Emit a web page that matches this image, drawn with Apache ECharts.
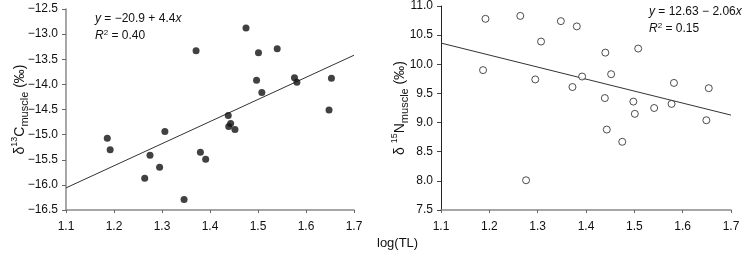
<!DOCTYPE html>
<html>
<head>
<meta charset="utf-8">
<script src="https://cdn.jsdelivr.net/npm/echarts@6/dist/echarts.min.js"></script>
<style>
html,body{margin:0;padding:0;background:#fff;}
#c{width:744px;height:254px;}
</style>
</head>
<body>
<div id="c"></div>
<script>
// log(TL) ticks
var xTicks = [1.1, 1.2, 1.3, 1.4, 1.5, 1.6, 1.7];
var c13Ticks = [-16.5, -16.0, -15.5, -15.0, -14.5, -14.0, -13.5, -13.0, -12.5];
var n15Ticks = [7.5, 8.0, 8.5, 9.0, 9.5, 10.0, 10.5, 11.0];

// Left panel: delta13C muscle vs log(TL)
var c13Points = [
  [1.186, -15.07], [1.192, -15.30], [1.264, -15.87], [1.275, -15.41],
  [1.295, -15.65], [1.306, -14.94], [1.346, -16.29], [1.371, -13.33],
  [1.380, -15.35], [1.391, -15.49], [1.438, -14.62], [1.439, -14.84],
  [1.443, -14.78], [1.452, -14.90], [1.475, -12.88], [1.497, -13.92],
  [1.501, -13.37], [1.508, -14.16], [1.540, -13.29], [1.576, -13.87],
  [1.581, -13.96], [1.648, -14.51], [1.653, -13.88]
];
var c13Fit = [[1.1, -16.06], [1.7, -13.42]];

// Right panel: delta15N muscle vs log(TL)
var n15Points = [
  [1.187, 9.90], [1.192, 10.78], [1.264, 10.83], [1.276, 8.01],
  [1.295, 9.74], [1.307, 10.39], [1.348, 10.74], [1.372, 9.61],
  [1.381, 10.65], [1.392, 9.79], [1.439, 9.42], [1.440, 10.20],
  [1.443, 8.88], [1.452, 9.83], [1.475, 8.67], [1.498, 9.36],
  [1.501, 9.15], [1.508, 10.27], [1.541, 9.25], [1.577, 9.32],
  [1.582, 9.68], [1.649, 9.04], [1.654, 9.59]
];
var n15Fit = [[1.1, 10.364], [1.7, 9.128]];

var FONT = 'Liberation Sans';
function fmt(v){ return v.toFixed(1).replace('-', '\u2212'); }

function xAxisCfg(idx){
  return {
    type: 'value', gridIndex: idx,
    min: xTicks[0], max: xTicks[xTicks.length-1], interval: 0.1,
    axisLine: {show: true, onZero: false, lineStyle: {color: '#8a8a8a', width: 1.5}},
    axisTick: {show: true, length: 3, lineStyle: {color: '#666', width: 1}},
    axisLabel: {formatter: fmt, color: '#111', fontFamily: FONT, fontSize: 12, margin: 11},
    splitLine: {show: false}
  };
}
var nameRich = {
  a: {fontFamily: FONT, fontSize: 14, color: '#111', lineHeight: 20, verticalAlign: 'middle'},
  sup: {fontFamily: FONT, fontSize: 9, color: '#111', lineHeight: 9, verticalAlign: 'top'},
  sub: {fontFamily: FONT, fontSize: 11, color: '#111', lineHeight: 11, verticalAlign: 'bottom'}
};

var chart = echarts.init(document.getElementById('c'), null, {renderer: 'canvas'});
chart.setOption({
  animation: false,
  backgroundColor: '#fff',
  grid: [
    {left: 66, top: 9, width: 288, height: 201},
    {left: 441, top: 5, width: 290, height: 205}
  ],
  xAxis: [xAxisCfg(0), xAxisCfg(1)],
  yAxis: [
    {
      type: 'value', gridIndex: 0,
      min: c13Ticks[0], max: c13Ticks[c13Ticks.length-1], interval: 0.5,
      axisLine: {show: true, onZero: false, lineStyle: {color: '#8a8a8a', width: 1.5}},
      axisTick: {show: true, length: 4, lineStyle: {color: '#666'}},
      axisLabel: {formatter: fmt, color: '#111', fontFamily: FONT, fontSize: 12, margin: 8},
      splitLine: {show: false},
      name: '{a|\u03b4}{sup|13}{a|C}{sub|muscle}{a| (\u2030)}',
      nameLocation: 'middle', nameRotate: 90, nameGap: 36, nameMoveOverlap: false,
      nameTextStyle: {rich: nameRich}
    },
    {
      type: 'value', gridIndex: 1,
      min: n15Ticks[0], max: n15Ticks[n15Ticks.length-1], interval: 0.5,
      axisLine: {show: true, onZero: false, lineStyle: {color: '#222', width: 1}},
      axisTick: {show: true, length: 4, lineStyle: {color: '#444'}},
      axisLabel: {formatter: fmt, color: '#111', fontFamily: FONT, fontSize: 12, margin: 8},
      splitLine: {show: false},
      name: '{a|\u03b4 }{sup|15}{a|N}{sub|muscle}{a| (\u2030)}',
      nameLocation: 'middle', nameRotate: 90, nameGap: 31, nameMoveOverlap: false,
      nameTextStyle: {rich: nameRich}
    }
  ],
  series: [
    {type: 'line', xAxisIndex: 0, yAxisIndex: 0, data: c13Fit, symbol: 'none',
     lineStyle: {color: '#333', width: 1}, z: 2},
    {type: 'scatter', xAxisIndex: 0, yAxisIndex: 0, data: c13Points, symbol: 'circle', symbolSize: 7,
     itemStyle: {color: '#111'}, z: 3},
    {type: 'line', xAxisIndex: 1, yAxisIndex: 1, data: n15Fit, symbol: 'none',
     lineStyle: {color: '#333', width: 1}, z: 2},
    {type: 'scatter', xAxisIndex: 1, yAxisIndex: 1, data: n15Points, symbol: 'circle', symbolSize: 7,
     itemStyle: {color: '#fff', borderColor: '#222', borderWidth: 1}, z: 3}
  ],
  graphic: [
    {type: 'text', left: 95, top: 13, style: {
      text: '{i|y} = \u221220.9 + 4.4{i|x}',
      font: '12px ' + FONT, fill: '#111',
      rich: {i: {fontStyle: 'italic', fontFamily: FONT, fontSize: 12, fill: '#111'}}
    }},
    {type: 'text', left: 95, top: 29, style: {
      text: '{i|R}{s|2} = 0.40',
      font: '12px ' + FONT, fill: '#111',
      rich: {
        i: {fontStyle: 'italic', fontFamily: FONT, fontSize: 12, fill: '#111', lineHeight: 14, verticalAlign: 'middle'},
        s: {fontFamily: FONT, fontSize: 8, fill: '#111', lineHeight: 8, verticalAlign: 'top'}
      }
    }},
    {type: 'text', left: 649, top: 6, style: {
      text: '{i|y} = 12.63 \u2212 2.06{i|x}',
      font: '12px ' + FONT, fill: '#111',
      rich: {i: {fontStyle: 'italic', fontFamily: FONT, fontSize: 12, fill: '#111'}}
    }},
    {type: 'text', left: 649, top: 22, style: {
      text: '{i|R}{s|2} = 0.15',
      font: '12px ' + FONT, fill: '#111',
      rich: {
        i: {fontStyle: 'italic', fontFamily: FONT, fontSize: 12, fill: '#111', lineHeight: 14, verticalAlign: 'middle'},
        s: {fontFamily: FONT, fontSize: 8, fill: '#111', lineHeight: 8, verticalAlign: 'top'}
      }
    }},
    {type: 'text', left: 377, top: 237, style: {
      text: 'log(TL)', font: '13px ' + FONT, fill: '#111'
    }}
  ]
});
</script>
</body>
</html>
